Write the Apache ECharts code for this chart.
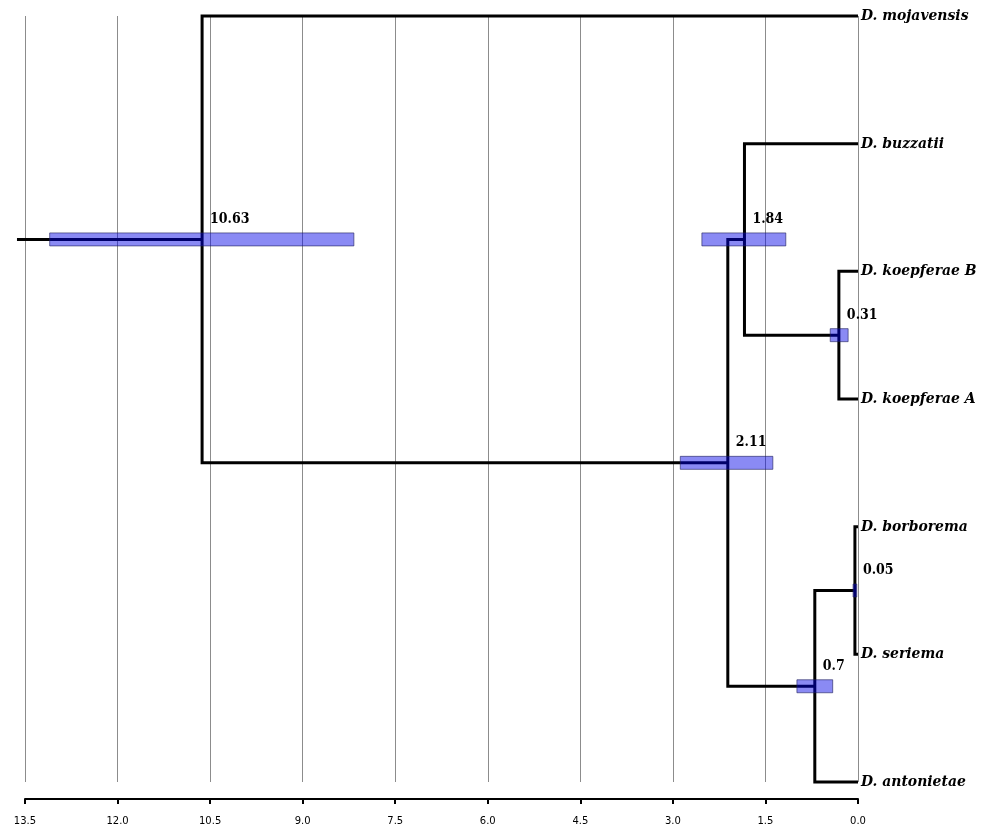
<!DOCTYPE html>
<html>
<head>
<meta charset="utf-8">
<script src="https://cdn.jsdelivr.net/npm/echarts@6/dist/echarts.min.js"></script>
<style>
html,body{margin:0;padding:0;background:#fff;}
#chart{width:990px;height:826px;}
</style>
</head>
<body>
<div id="chart"></div>
<script>
// ---- data ----
const tipNames = ['D. mojavensis', 'D. buzzatii', 'D. koepferae B', 'D. koepferae A', 'D. borborema', 'D. seriema', 'D. antonietae'];
// internal nodes: n0 root, n1, n2, n3, n4, n5
const nodeAges = [10.63, 1.84, 0.31, 2.11, 0.05, 0.70];
const nodeLabels = ['10.63', '1.84', '0.31', '2.11', '0.05', '0.7'];
const hpdLow = [8.17, 1.17, 0.16, 1.38, 0.02, 0.41];
const hpdHigh = [13.10, 2.53, 0.45, 2.88, 0.08, 0.99];
const childFirst = ['t0', 't1', 't2', 'n1', 't4', 'n4'];
const childSecond = ['n3', 'n2', 't3', 'n5', 't5', 't6'];
const rootStemAge = 13.63;
const xTicks = [0, 1.5, 3.0, 4.5, 6.0, 7.5, 9.0, 10.5, 12.0, 13.5];

// ---- layout from tree ----
function ageOf(id) { return id[0] === 't' ? 0 : nodeAges[+id.slice(1)]; }
function yOf(id) {
  if (id[0] === 't') return +id.slice(1);
  const i = +id.slice(1);
  return (yOf(childFirst[i]) + yOf(childSecond[i])) / 2;
}
const branchData = nodeAges.map((a, i) => [a, yOf('n' + i), ageOf(childFirst[i]), yOf(childFirst[i]), ageOf(childSecond[i]), yOf(childSecond[i])]);
const barData = nodeAges.map((a, i) => [hpdLow[i], hpdHigh[i], yOf('n' + i), a]);
const labelData = nodeAges.map((a, i) => [a, yOf('n' + i), nodeLabels[i]]);
const tipData = tipNames.map((n, i) => [0, i, n]);
const rootY = yOf('n0');
const stemData = [[rootStemAge, nodeAges[0], rootY]];

const tipFont = 'bold italic 15.5px "DejaVu Serif Condensed", "DejaVu Serif", serif';
const nodeFont = 'bold 14px "DejaVu Serif Condensed", "DejaVu Serif", serif';

const chart = echarts.init(document.getElementById('chart'));
chart.setOption({
  animation: false,
  backgroundColor: '#fff',
  grid: { left: 25, right: 132, top: 16, bottom: 43 },
  xAxis: {
    type: 'value', inverse: true, min: 0, max: 13.5, interval: 1.5,
    position: 'bottom', offset: 17,
    axisLine: { show: true, onZero: false, lineStyle: { color: '#000', width: 2 } },
    axisTick: { show: true, length: 5, lineStyle: { color: '#000', width: 2 } },
    axisLabel: { margin: 17, color: '#000', fontSize: 10, fontFamily: 'DejaVu Sans', formatter: v => v.toFixed(1) },
    splitLine: { show: true, lineStyle: { color: '#8c8c8c', width: 1 } }
  },
  yAxis: { type: 'value', inverse: true, min: 0, max: 6, show: false, splitLine: { show: false } },
  series: [
    {
      type: 'custom', data: stemData, clip: false, silent: true,
      encode: { x: [0, 1], y: 2 },
      renderItem: function (params, api) {
        const a = api.coord([api.value(0), api.value(2)]);
        const b = api.coord([api.value(1), api.value(2)]);
        return { type: 'line', shape: { x1: a[0], y1: a[1], x2: b[0], y2: b[1] }, style: { stroke: '#000', lineWidth: 3 } };
      }
    },
    {
      type: 'custom', data: branchData, clip: false, silent: true,
      encode: { x: [0, 2, 4], y: [1, 3, 5] },
      renderItem: function (params, api) {
        const c1 = api.coord([api.value(2), api.value(3)]);
        const n1 = api.coord([api.value(0), api.value(3)]);
        const n2 = api.coord([api.value(0), api.value(5)]);
        const c2 = api.coord([api.value(4), api.value(5)]);
        return { type: 'polyline', shape: { points: [c1, n1, n2, c2] }, style: { stroke: '#000', lineWidth: 3, fill: null, lineJoin: 'miter' } };
      }
    },
    {
      type: 'custom', data: barData, clip: false, silent: true,
      encode: { x: [0, 1], y: 2 },
      renderItem: function (params, api) {
        const a = api.coord([api.value(1), api.value(2)]);
        const b = api.coord([api.value(0), api.value(2)]);
        const h = 13;
        return { type: 'rect', shape: { x: a[0], y: a[1] - h / 2, width: b[0] - a[0], height: h },
          style: { fill: 'rgba(0,0,230,0.46)', stroke: 'rgba(30,30,90,0.6)', lineWidth: 1 } };
      }
    },
    {
      type: 'custom', data: labelData, clip: false, silent: true,
      encode: { x: 0, y: 1 },
      renderItem: function (params, api) {
        const p = api.coord([api.value(0), api.value(1)]);
        return { type: 'text', x: p[0] + 8, y: p[1] - 20,
          style: { text: labelData[params.dataIndex][2], font: nodeFont, fill: '#000', textAlign: 'left', textVerticalAlign: 'middle' } };
      }
    },
    {
      type: 'custom', data: tipData, clip: false, silent: true,
      encode: { x: 0, y: 1 },
      renderItem: function (params, api) {
        const p = api.coord([api.value(0), api.value(1)]);
        return { type: 'text', x: p[0] + 3, y: p[1],
          style: { text: tipData[params.dataIndex][2], font: tipFont, fill: '#000', textAlign: 'left', textVerticalAlign: 'middle' } };
      }
    }
  ]
});
</script>
</body>
</html>
